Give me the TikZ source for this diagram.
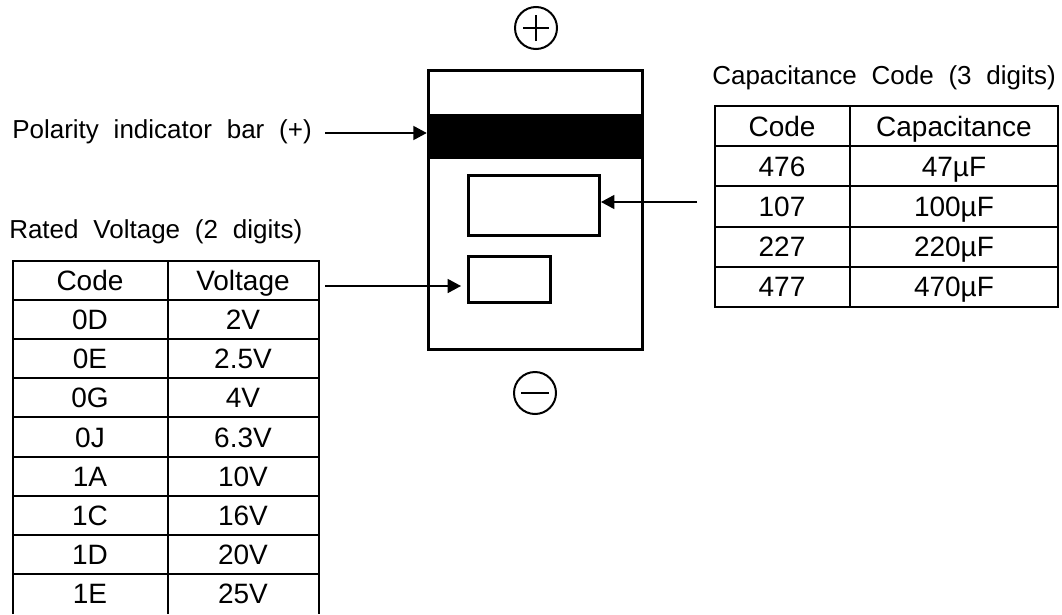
\documentclass[tikz,border=0pt]{standalone}
\usepackage{fontspec}
\setmainfont{Liberation Sans}
\newfontfamily\lblfont[WordSpace=2.05]{Liberation Sans}
\usetikzlibrary{arrows.meta}
\begin{document}
\begin{tikzpicture}[x=0.75pt,y=-0.75pt,
  lbl/.style={font=\lblfont\fontsize{19.5}{23}\selectfont, inner sep=0pt, anchor=west},
  cell/.style={font=\fontsize{21}{25}\selectfont, inner sep=0pt, text height=15.1pt, text depth=0pt},
  gridline/.style={line width=1.5pt},
  outline/.style={draw, line width=2.25pt, inner sep=0pt},
  arr/.style={line width=1.1pt, -{Triangle[length=10pt,width=10.5pt]}},
  pol/.style={circle, draw, line width=1.5pt, minimum size=31.5pt, inner sep=0pt},
  sign/.style={line width=1.5pt}]
\useasboundingbox (0,0) rectangle (1062,614);

% capacitor body
\node[outline, minimum width=160.5pt, minimum height=209.25pt] (body) at (535,209.5) {};
\node[fill=black, inner sep=0pt, minimum width=162pt, minimum height=33.75pt] (bar) at (535,136.5) {};
\node[outline, minimum width=98.25pt, minimum height=45pt] (crect) at (534,205.5) {};
\node[outline, minimum width=61.5pt, minimum height=34.5pt] (vrect) at (509.5,279.5) {};

% polarity signs
\node[pol] (plus) at (536,28) {};
\draw[sign] ([xshift=-9.75pt]plus.center) -- ([xshift=9.75pt]plus.center);
\draw[sign] ([yshift=-9.75pt]plus.center) -- ([yshift=9.75pt]plus.center);
\node[pol] (minus) at (535,393) {};
\draw[sign] ([xshift=-10.5pt]minus.center) -- ([xshift=10.5pt]minus.center);

% labels
\node[lbl] (pollbl) at (12,132) {Polarity indicator bar (+)};
\node[lbl] (vtitle) at (9,232) {Rated Voltage (2 digits)};
\node[lbl] (ctitle) at (712,78) {Capacitance Code (3 digits)};

% arrows
\coordinate (ps) at (325,133);
\draw[arr] (ps) -- (ps -| bar.west);
\coordinate (vs) at (325,286);
\draw[arr, shorten >=4.5pt] (vs) -- (vs -| vrect.west);
\coordinate (cs) at (697,202);
\draw[arr] (cs) -- (cs -| crect.east);

% voltage table
\draw[gridline] (13,614) -- (13,261) -- (319,261) -- (319,614);
\draw[gridline] (168,261) -- (168,614);
\foreach \k in {1,...,8} \draw[gridline] (13,{261+39.1*\k}) -- (319,{261+39.1*\k});
\foreach \c/\v [count=\i from 0] in {Code/Voltage,0D/2V,0E/2.5V,0G/4V,0J/6.3V,1A/10V,1C/16V,1D/20V,1E/25V}{
  \node[cell] (vc\i) at (90,{261+39.1*(\i+0.5)}) {\c};
  \node[cell] (vv\i) at (243,{261+39.1*(\i+0.5)}) {\v};
}

% capacitance table
\draw[gridline] (715,106) rectangle (1058,307);
\draw[gridline] (850,106) -- (850,307);
\foreach \k in {1,...,4} \draw[gridline] (715,{106+40.2*\k}) -- (1058,{106+40.2*\k});
\foreach \c/\v [count=\i from 0] in {Code/Capacitance,476/47µF,107/100µF,227/220µF,477/470µF}{
  \node[cell] (cc\i) at (782,{106+40.2*(\i+0.5)}) {\c};
  \node[cell] (cv\i) at (954,{106+40.2*(\i+0.5)}) {\v};
}
\end{tikzpicture}
\end{document}
